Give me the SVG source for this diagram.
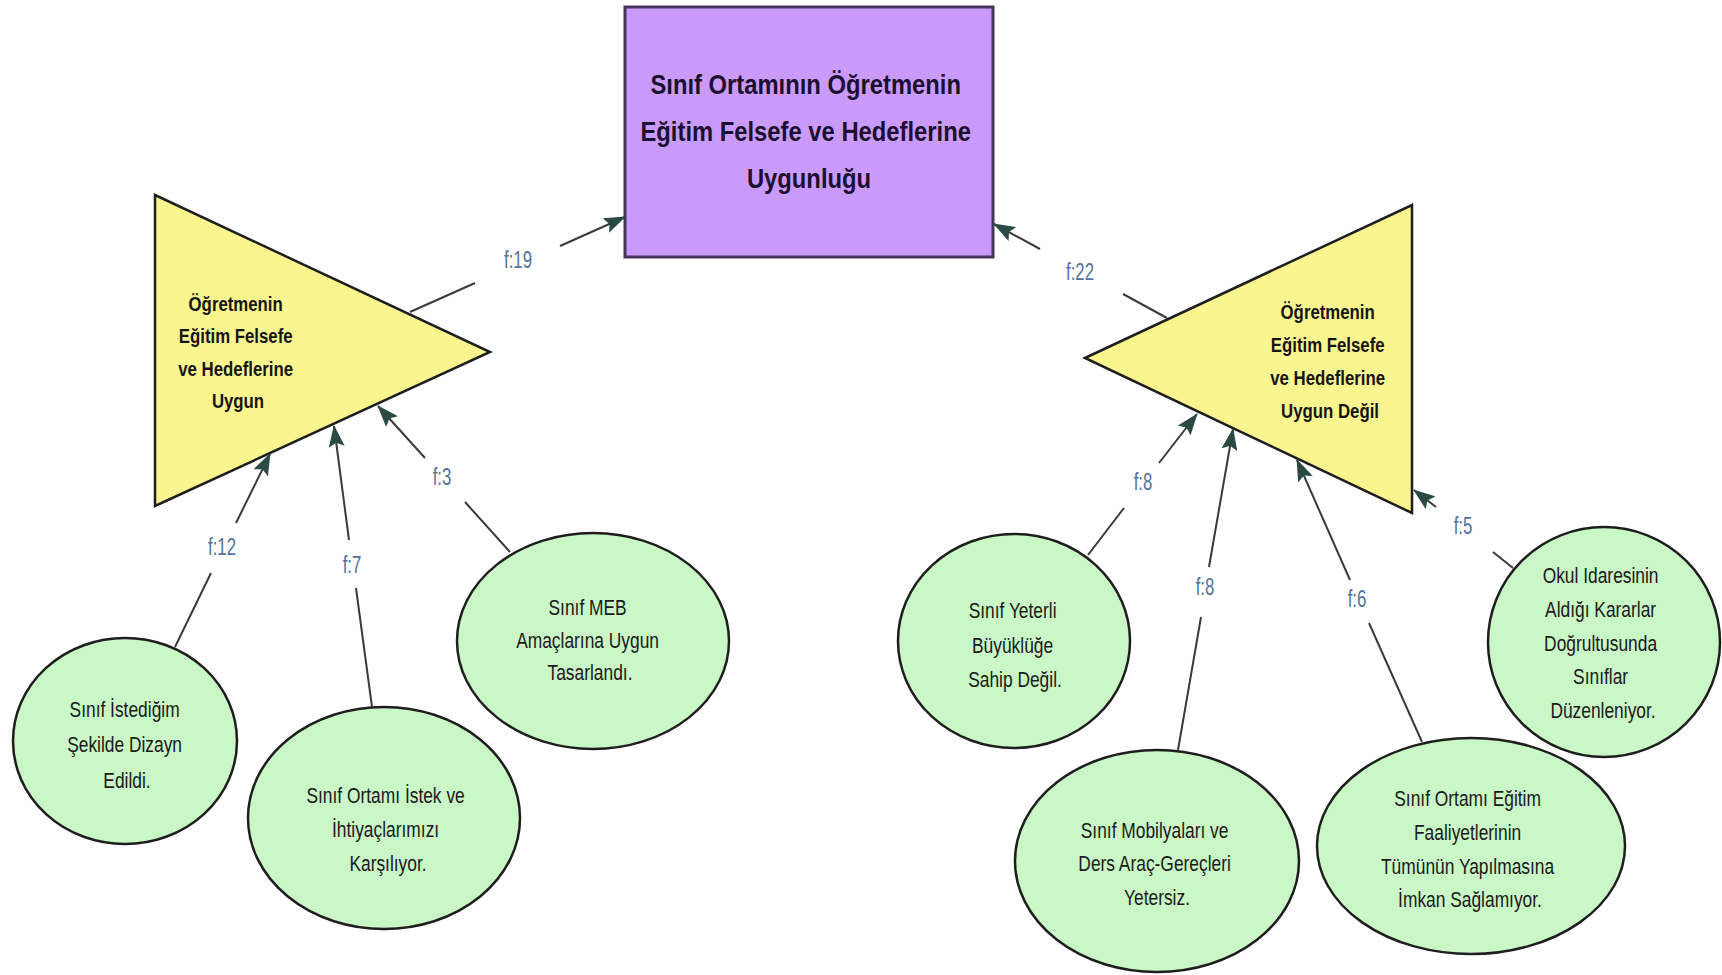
<svg xmlns="http://www.w3.org/2000/svg" width="1722" height="975" viewBox="0 0 1722 975">
  <style>
    .title { font-family: "Liberation Sans", Arial, sans-serif; font-weight: bold; font-size: 28px; fill: #1b1030; text-anchor: middle; }
    .tri { fill: #fbf590; stroke: #1e1e1e; stroke-width: 2.5; stroke-linejoin: miter; }
    .tritext { font-family: "Liberation Sans", Arial, sans-serif; font-weight: bold; font-size: 21px; fill: #151515; text-anchor: middle; }
    .ell { fill: #caf7c6; stroke: #1e1e1e; stroke-width: 2.5; }
    .etext { font-family: "Liberation Sans", Arial, sans-serif; font-size: 22px; fill: #1a1a1a; text-anchor: middle; }
    .conn { fill: none; stroke: #3a3a3a; stroke-width: 2; marker-end: url(#arrow); }
    .lbl { font-family: "Liberation Sans", Arial, sans-serif; font-size: 24px; fill: #52719d; text-anchor: middle; }
  </style>
  <defs>
    <marker id="arrow" markerUnits="userSpaceOnUse" markerWidth="22" markerHeight="16" viewBox="0 0 22 16" refX="21" refY="8" orient="auto">
      <path d="M0,0 L22,8 L0,16 L4,8 Z" fill="#2b4a45"/>
    </marker>
  </defs>
  <rect x="0" y="0" width="1722" height="975" fill="#ffffff"/>

  <g id="root">
    <rect x="625" y="7" width="368" height="250" fill="#ca9afb" stroke="#45345c" stroke-width="3"/>
    <text class="title" transform="translate(809 0) scale(0.85 1)">
      <tspan x="0" y="94">Sınıf Ortamının Öğretmenin</tspan>
      <tspan x="0" y="141">Eğitim Felsefe ve Hedeflerine</tspan>
      <tspan x="0" y="188">Uygunluğu</tspan>
    </text>
  </g>

  <g id="uygun">
    <polygon class="tri" points="155,195 490,352 155,506"/>
    <text class="tritext" transform="translate(238 0) scale(0.8 1)">
      <tspan x="0" y="311">Öğretmenin</tspan>
      <tspan x="0" y="343">Eğitim Felsefe</tspan>
      <tspan x="0" y="376">ve Hedeflerine</tspan>
      <tspan x="0" y="408">Uygun</tspan>
    </text>
  </g>

  <g id="uygun-degil">
    <polygon class="tri" points="1085,358 1412,205 1412,513"/>
    <text class="tritext" transform="translate(1330 0) scale(0.8 1)">
      <tspan x="0" y="319">Öğretmenin</tspan>
      <tspan x="0" y="352">Eğitim Felsefe</tspan>
      <tspan x="0" y="385">ve Hedeflerine</tspan>
      <tspan x="0" y="418">Uygun Değil</tspan>
    </text>
  </g>

  <g id="e1">
    <ellipse class="ell" cx="125" cy="741" rx="112" ry="103"/>
    <text class="etext" transform="translate(127 0) scale(0.79 1)">
      <tspan x="0" y="717">Sınıf İstediğim</tspan>
      <tspan x="0" y="752">Şekilde Dizayn</tspan>
      <tspan x="0" y="788">Edildi.</tspan>
    </text>
  </g>

  <g id="e2">
    <ellipse class="ell" cx="384" cy="818" rx="136" ry="111"/>
    <text class="etext" transform="translate(388 0) scale(0.79 1)">
      <tspan x="0" y="803">Sınıf Ortamı İstek ve</tspan>
      <tspan x="0" y="837">İhtiyaçlarımızı</tspan>
      <tspan x="0" y="871">Karşılıyor.</tspan>
    </text>
  </g>

  <g id="e3">
    <ellipse class="ell" cx="593" cy="641" rx="136" ry="108"/>
    <text class="etext" transform="translate(590 0) scale(0.79 1)">
      <tspan x="0" y="615">Sınıf MEB</tspan>
      <tspan x="0" y="648">Amaçlarına Uygun</tspan>
      <tspan x="0" y="680">Tasarlandı.</tspan>
    </text>
  </g>

  <g id="e4">
    <ellipse class="ell" cx="1014" cy="641" rx="116" ry="107"/>
    <text class="etext" transform="translate(1015 0) scale(0.79 1)">
      <tspan x="0" y="618">Sınıf Yeterli</tspan>
      <tspan x="0" y="653">Büyüklüğe</tspan>
      <tspan x="0" y="687">Sahip Değil.</tspan>
    </text>
  </g>

  <g id="e5">
    <ellipse class="ell" cx="1157" cy="861" rx="142" ry="111"/>
    <text class="etext" transform="translate(1157 0) scale(0.79 1)">
      <tspan x="0" y="838">Sınıf Mobilyaları ve</tspan>
      <tspan x="0" y="871">Ders Araç-Gereçleri</tspan>
      <tspan x="0" y="905">Yetersiz.</tspan>
    </text>
  </g>

  <g id="e6">
    <ellipse class="ell" cx="1471" cy="846" rx="154" ry="108"/>
    <text class="etext" transform="translate(1470 0) scale(0.79 1)">
      <tspan x="0" y="806">Sınıf Ortamı Eğitim</tspan>
      <tspan x="0" y="840">Faaliyetlerinin</tspan>
      <tspan x="0" y="874">Tümünün Yapılmasına</tspan>
      <tspan x="0" y="907">İmkan Sağlamıyor.</tspan>
    </text>
  </g>

  <g id="e7">
    <ellipse class="ell" cx="1604" cy="642" rx="116" ry="115"/>
    <text class="etext" transform="translate(1603 0) scale(0.79 1)">
      <tspan x="0" y="583">Okul Idaresinin</tspan>
      <tspan x="0" y="617">Aldığı Kararlar</tspan>
      <tspan x="0" y="651">Doğrultusunda</tspan>
      <tspan x="0" y="684">Sınıflar</tspan>
      <tspan x="0" y="718">Düzenleniyor.</tspan>
    </text>
  </g>

  <g id="connectors">
    <path class="conn" d="M410,312 L475,283 M560,246 L625,217"/>
    <path class="conn" d="M1167,318 L1123,294 M1040,249 L994,224"/>
    <path class="conn" d="M175,647 L211,573 M236,523 L270,454"/>
    <path class="conn" d="M372,707 L356,588 M349,540 L334,426"/>
    <path class="conn" d="M510,552 L465,502 M425,458 L378,406"/>
    <path class="conn" d="M1088,555 L1124,508 M1159,463 L1197,414"/>
    <path class="conn" d="M1178,750 L1201,617 M1209,567 L1233,429"/>
    <path class="conn" d="M1422,742 L1369,623 M1350,580 L1297,460"/>
    <path class="conn" d="M1513,568 L1493,552 M1436,507 L1414,490"/>
    <g id="labels">
      <text class="lbl" transform="translate(518 0) scale(0.7 1)" x="0" y="268">f:19</text>
      <text class="lbl" transform="translate(1080 0) scale(0.7 1)" x="0" y="280">f:22</text>
      <text class="lbl" transform="translate(222 0) scale(0.7 1)" x="0" y="555">f:12</text>
      <text class="lbl" transform="translate(352 0) scale(0.7 1)" x="0" y="573">f:7</text>
      <text class="lbl" transform="translate(442 0) scale(0.7 1)" x="0" y="485">f:3</text>
      <text class="lbl" transform="translate(1143 0) scale(0.7 1)" x="0" y="490">f:8</text>
      <text class="lbl" transform="translate(1205 0) scale(0.7 1)" x="0" y="595">f:8</text>
      <text class="lbl" transform="translate(1357 0) scale(0.7 1)" x="0" y="607">f:6</text>
      <text class="lbl" transform="translate(1463 0) scale(0.7 1)" x="0" y="534">f:5</text>
    </g>
  </g>
</svg>
